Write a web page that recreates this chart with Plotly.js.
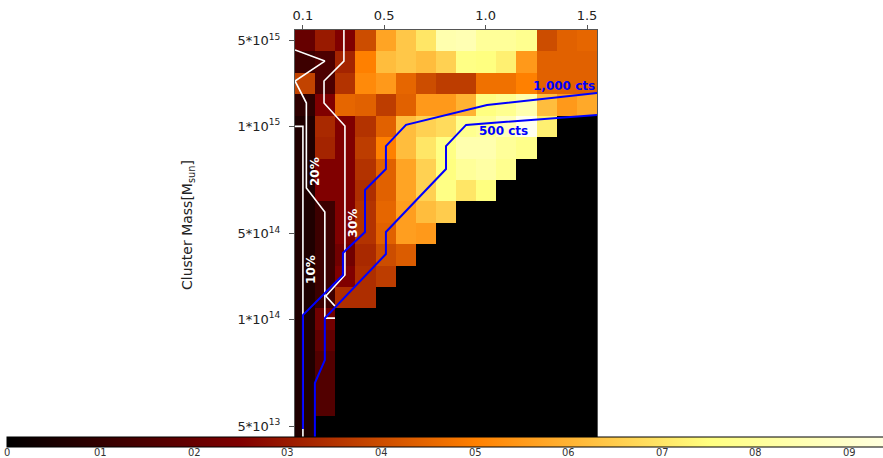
<!DOCTYPE html>
<html><head><meta charset="utf-8">
<script src="https://cdn.plot.ly/plotly-3.0.1.min.js"></script>
<style>html,body{margin:0;padding:0;background:#fff;overflow:hidden}#chart{width:883px;height:458px}</style>
</head><body><div id="chart"></div><script>
// Redshift bin edges (15 columns)
const redshiftEdges = [0.061,0.160,0.259,0.358,0.457,0.557,0.656,0.755,0.854,0.953,1.053,1.152,1.251,1.350,1.449,1.549];
// Mass bin rows (0 = lowest mass, 18 = highest)
const massRows = [0,1,2,3,4,5,6,7,8,9,10,11,12,13,14,15,16,17,18];
const massTickRows = [0,5,9,14,18];
const massTickLabels = ['5*10<sup>13</sup>','1*10<sup>14</sup>','5*10<sup>14</sup>','1*10<sup>15</sup>','5*10<sup>15</sup>'];
const redshiftTicks = [0.1,0.5,1.0,1.5];
const redshiftTickLabels = ['0.1','0.5','1.0','1.5'];
const colorTicks = [0,0.1,0.2,0.3,0.4,0.5,0.6,0.7,0.8,0.9];
const colorTickLabels = ['0','01','02','03','04','05','06','07','08','09'];

// Detected fraction per cell, rows listed from lowest mass (row 0) to highest (row 18)
const row00 = [0.06,0,0,0,0,0,0,0,0,0,0,0,0,0,0];
const row01 = [0.06,0.16,0,0,0,0,0,0,0,0,0,0,0,0,0];
const row02 = [0.06,0.16,0,0,0,0,0,0,0,0,0,0,0,0,0];
const row03 = [0.06,0.16,0,0,0,0,0,0,0,0,0,0,0,0,0];
const row04 = [0.06,0.19,0,0,0,0,0,0,0,0,0,0,0,0,0];
const row05 = [0.06,0.22,0,0,0,0,0,0,0,0,0,0,0,0,0];
const row06 = [0.06,0.12,0.34,0.34,0,0,0,0,0,0,0,0,0,0,0];
const row07 = [0.06,0.12,0.25,0.34,0.37,0,0,0,0,0,0,0,0,0,0];
const row08 = [0.06,0.12,0.22,0.33,0.40,0.43,0,0,0,0,0,0,0,0,0];
const row09 = [0.06,0.12,0.25,0.35,0.44,0.56,0.55,0,0,0,0,0,0,0,0];
const row10 = [0.06,0.12,0.25,0.35,0.45,0.56,0.62,0.65,0,0,0,0,0,0,0];
const row11 = [0.06,0.25,0.25,0.34,0.44,0.57,0.66,0.76,0.70,0.75,0,0,0,0,0];
const row12 = [0.06,0.25,0.25,0.35,0.44,0.57,0.66,0.75,0.80,0.82,0.78,0,0,0,0];
const row13 = [0.06,0.32,0.25,0.37,0.50,0.62,0.70,0.76,0.84,0.84,0.80,0.77,0,0,0];
const row14 = [0.06,0.33,0.25,0.35,0.44,0.62,0.66,0.68,0.78,0.80,0.87,0.97,0.72,0,0];
const row15 = [0.09,0.25,0.45,0.44,0.37,0.44,0.55,0.55,0.60,0.75,0.78,0.84,0.62,0.55,0.58];
const row16 = [0.38,0.15,0.35,0.52,0.55,0.45,0.40,0.37,0.37,0.47,0.47,0.50,0.44,0.44,0.44];
const row17 = [0.12,0.15,0.32,0.50,0.62,0.64,0.62,0.66,0.76,0.75,0.72,0.55,0.44,0.44,0.44];
const row18 = [0.20,0.30,0.25,0.40,0.57,0.64,0.70,0.84,0.85,0.80,0.80,0.78,0.40,0.44,0.45];
const fraction = [row00,row01,row02,row03,row04,row05,row06,row07,row08,row09,row10,row11,row12,row13,row14,row15,row16,row17,row18];

// Contour lines (redshift, mass row)
const c10x = [0.061,0.10,0.10];
const c10y = [14.0,14.0,-0.5];
const c20x = [0.061,0.208,0.061,0.117,0.117,0.208,0.208,0.258];
const c20y = [17.57,17.05,16.12,15.09,11.12,10.0,5.05,5.05];
const c30x = [0.302,0.302,0.204,0.204,0.307,0.307,0.213,0.258];
const c30y = [18.5,17.05,16.12,15.09,14.02,7.06,6.08,5.61];
const cts500x = [1.549,0.904,0.805,0.805,0.509,0.509,0.208,0.208,0.159,0.159];
const cts500y = [14.53,14.07,13.08,12.01,9.07,8.04,5.05,3.09,2.02,-0.5];
const cts1000x = [1.549,1.007,0.608,0.509,0.509,0.406,0.406,0.297,0.297,0.10,0.10];
const cts1000y = [15.56,15.0,14.07,13.08,12.01,11.03,9.07,8.09,7.06,5.19,-0.13];

const afmhot = [[0,'#000000'],[0.25,'#800000'],[0.5,'#ff8000'],[0.75,'#ffff80'],[1,'#ffffff']];

// geometry (pixels): plot area 295..597 x 30..437; colour bar drawn from 7 px to 943 px
const PL = 295, PW = 302, PB = 437, PH = 407, CB0 = 7, CBLEN = 936;

const traces = [
  {type:'heatmap', x: redshiftEdges, y: massRows, z: fraction, zmin:0, zmax:1,
   colorscale: afmhot, zsmooth:false, hoverinfo:'skip',
   colorbar:{orientation:'h', xref:'paper', yref:'paper',
     x: (CB0-PL)/PW, xanchor:'left', y: 0, yanchor:'top',
     len: CBLEN, lenmode:'pixels', thickness: 10, thicknessmode:'pixels',
     xpad:0, ypad:0, outlinewidth:1, outlinecolor:'#000',
     tickmode:'array', tickvals: colorTicks, ticktext: colorTickLabels, ticks:'', showticklabels:false}},
  {type:'scatter', mode:'lines', x:c10x, y:c10y, line:{color:'#ffffff', width:1.6}, hoverinfo:'skip', showlegend:false},
  {type:'scatter', mode:'lines', x:c20x, y:c20y, line:{color:'#ffffff', width:1.6}, hoverinfo:'skip', showlegend:false},
  {type:'scatter', mode:'lines', x:c30x, y:c30y, line:{color:'#ffffff', width:1.6}, hoverinfo:'skip', showlegend:false},
  {type:'scatter', mode:'lines', x:cts500x, y:cts500y, line:{color:'#0000ff', width:2}, hoverinfo:'skip', showlegend:false},
  {type:'scatter', mode:'lines', x:cts1000x, y:cts1000y, line:{color:'#0000ff', width:2}, hoverinfo:'skip', showlegend:false}
];

const wlab = {family:'DejaVu Sans, sans-serif', size:12, color:'#ffffff'};
const blab = {family:'DejaVu Sans, sans-serif', size:12, color:'#0000ff'};
const cbFont = {family:'Liberation Sans Narrow, DejaVu Sans Condensed, sans-serif', size:11, color:'#333'};

const annotations = [
  {xref:'paper', yref:'paper', x:(188-PL)/PW, y:(PB-225)/PH, text:'Cluster Mass[M<sub>sun</sub>]',
   textangle:-90, showarrow:false, font:{size:14, color:'#222'}, xanchor:'center', yanchor:'middle'},
  {x:0.139, y:7.34, text:'<b>10%</b>', textangle:-90, showarrow:false, font:wlab},
  {x:0.157, y:11.89, text:'<b>20%</b>', textangle:-90, showarrow:false, font:wlab},
  {x:0.346, y:9.51, text:'<b>30%</b>', textangle:-90, showarrow:false, font:wlab},
  {x:1.547, y:15.89, text:'<b>1,000 cts</b>', showarrow:false, xanchor:'right', font:blab},
  {x:1.086, y:13.78, text:'<b>500 cts</b>', showarrow:false, font:blab}
];
// colour bar tick labels placed on the colour bar's value scale
colorTicks.forEach((v,i) => {
  annotations.push({xref:'paper', yref:'paper', x:(CB0 + v*CBLEN - PL)/PW, y:(PB-457.5)/PH,
    xanchor:'center', yanchor:'bottom', height:10, valign:'middle',
    text:colorTickLabels[i], showarrow:false, font:cbFont, borderpad:0});
});

const layout = {
  width:883, height:458,
  margin:{l:PL, r:883-PL-PW, t:30, b:458-PB, autoexpand:false},
  paper_bgcolor:'#ffffff', plot_bgcolor:'#000000',
  showlegend:false,
  font:{family:'DejaVu Sans, sans-serif', size:13, color:'#222'},
  xaxis:{side:'top', range:[0.061,1.549], tickmode:'array', tickvals:redshiftTicks, ticktext:redshiftTickLabels,
    ticks:'outside', ticklen:4, tickcolor:'#555', showgrid:false, zeroline:false,
    showline:true, linecolor:'#555', linewidth:1, mirror:true, tickfont:{size:13, color:'#222'}},
  yaxis:{range:[-0.5,18.5], tickmode:'array', tickvals:massTickRows, ticktext:massTickLabels,
    ticks:'outside', ticklen:5, tickcolor:'#555', ticklabelstandoff:6, showgrid:false, zeroline:false,
    showline:true, linecolor:'#555', linewidth:1, mirror:true, tickfont:{size:13, color:'#222'}},
  annotations: annotations
};
Plotly.newPlot('chart', traces, layout, {staticPlot:true, displayModeBar:false});
</script></body></html>
